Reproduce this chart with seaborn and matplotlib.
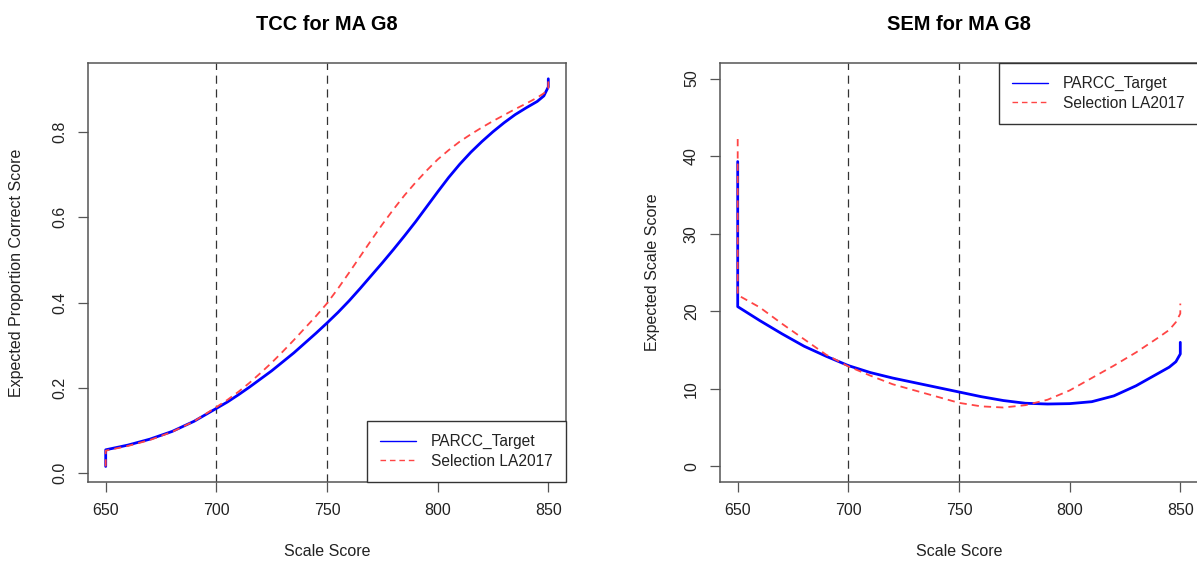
import matplotlib
matplotlib.use("Agg")
import matplotlib.pyplot as plt
from matplotlib.lines import Line2D
import pandas as pd
import seaborn as sns

# Scale-score grids (650 and 850 repeated for the jumps at the scale ends)
tcc_score = [650, 650, 660, 670, 680, 690, 700, 705, 710, 715, 720, 725, 730,
             735, 740, 745, 750, 755, 760, 765, 770, 775, 780, 785, 790, 795,
             800, 805, 810, 815, 820, 825, 830, 835, 840, 845, 848, 850, 850]
sem_score = [650, 650, 660, 670, 680, 690, 700, 710, 720, 730, 740, 750, 760,
             770, 780, 790, 800, 810, 820, 830, 840, 845, 848, 850, 850]

# Test characteristic curves (expected proportion correct)
tcc_parcc = [0.016, 0.055, 0.066, 0.080, 0.098, 0.122, 0.152, 0.167, 0.184,
             0.202, 0.221, 0.240, 0.261, 0.282, 0.305, 0.328, 0.352, 0.377,
             0.404, 0.433, 0.463, 0.493, 0.524, 0.556, 0.589, 0.624, 0.659,
             0.693, 0.724, 0.752, 0.777, 0.800, 0.821, 0.840, 0.856, 0.871,
             0.884, 0.905, 0.924]
tcc_la2017 = [0.016, 0.053, 0.064, 0.078, 0.097, 0.122, 0.155, 0.172, 0.191,
              0.212, 0.235, 0.259, 0.285, 0.312, 0.340, 0.368, 0.398, 0.433,
              0.470, 0.508, 0.546, 0.583, 0.618, 0.651, 0.681, 0.709, 0.735,
              0.757, 0.777, 0.794, 0.810, 0.825, 0.839, 0.853, 0.866, 0.880,
              0.890, 0.902, 0.920]

# Conditional standard errors of measurement
sem_parcc = [39.3, 20.6, 18.8, 17.1, 15.5, 14.2, 13.0, 12.1, 11.4, 10.8,
             10.2, 9.6, 9.0, 8.5, 8.15, 8.05, 8.1, 8.35, 9.1, 10.4, 12.0,
             12.8, 13.5, 14.5, 16.0]
sem_la2017 = [42.2, 22.1, 20.5, 18.4, 16.4, 14.4, 12.9, 11.7, 10.6, 9.8,
              9.0, 8.2, 7.75, 7.6, 7.9, 8.6, 9.8, 11.4, 13.0, 14.7, 16.6,
              17.6, 18.6, 19.7, 21.0]

series_names = ["PARCC_Target", "Selection LA2017"]
cut_scores = [700, 750]
titles = ["TCC for MA G8", "SEM for MA G8"]
y_labels = ["Expected Proportion Correct Score", "Expected Scale Score"]
x_label = "Scale Score"
x_ticks = [650, 700, 750, 800, 850]
tcc_ticks = [0.0, 0.2, 0.4, 0.6, 0.8]
sem_ticks = [0, 10, 20, 30, 40, 50]

sns.set_style("white")
plt.rcParams["font.family"] = ["Liberation Sans", "DejaVu Sans"]

BLUE = "#0000FF"
RED = "#FF4545"
INK = "#222222"
FRAME = "#555555"
palette = {series_names[0]: BLUE, series_names[1]: RED}
dashes = {series_names[0]: "", series_names[1]: (4, 2.8)}
sizes = {series_names[0]: 2.0, series_names[1]: 1.3}

fig = plt.figure(figsize=(11.97, 5.63), dpi=100)
ax_tcc = fig.add_axes([88 / 1197, 1 - 482 / 563, 478 / 1197, 419 / 563])
ax_sem = fig.add_axes([720 / 1197, 1 - 482 / 563, 478 / 1197, 419 / 563])


def long_frame(x, a, b):
    return pd.DataFrame({
        "score": x + x,
        "value": a + b,
        "series": [series_names[0]] * len(x) + [series_names[1]] * len(x),
    })


panels = [
    (ax_tcc, long_frame(tcc_score, tcc_parcc, tcc_la2017), (-0.0204, 0.961),
     tcc_ticks, ["%.1f" % t for t in tcc_ticks], "lower right"),
    (ax_sem, long_frame(sem_score, sem_parcc, sem_la2017), (-2.0, 52.0),
     sem_ticks, [str(t) for t in sem_ticks], "upper right"),
]

for i, (ax, df, ylim, yticks, ylabels, loc) in enumerate(panels):
    for c in cut_scores:
        ax.axvline(c, color="#333333", lw=0.9, dashes=(6.5, 4.5), zorder=1)
    sns.lineplot(data=df, x="score", y="value", hue="series", style="series",
                 size="series", palette=palette, dashes=dashes, sizes=sizes,
                 estimator=None, sort=False, legend=False, ax=ax, zorder=3)
    ax.set_xlim(642, 858)
    ax.set_ylim(*ylim)
    ax.set_xticks(x_ticks)
    ax.set_xticklabels([str(t) for t in x_ticks])
    ax.set_yticks(yticks)
    ax.set_yticklabels(ylabels, rotation=90, va="center")
    ax.tick_params(axis="both", direction="out", length=7.2, width=0.9,
                   color=FRAME, labelsize=11.5, labelcolor=INK, pad=8,
                   bottom=True, left=True)
    for sp in ax.spines.values():
        sp.set_color(FRAME)
        sp.set_linewidth(1.1)
    ax.set_xlabel(x_label, fontsize=11.5, color=INK)
    ax.set_ylabel(y_labels[i], fontsize=11.5, color=INK)
    ax.xaxis.set_label_coords(0.5, -(551 - 482) / 419)
    ax.xaxis.label.set_va("center")
    ax.set_title(titles[i], fontsize=14.4, fontweight="bold", color="black",
                 pad=23.5)
    handles = [Line2D([], [], color=BLUE, lw=1.0),
               Line2D([], [], color=RED, lw=1.0, dashes=(4, 2.8))]
    leg = ax.legend(handles, series_names, loc=loc, fontsize=11.2,
                    frameon=True, fancybox=False, borderaxespad=0,
                    borderpad=0.85, labelspacing=0.28, handlelength=2.3,
                    handletextpad=1.0)
    leg.get_frame().set_edgecolor("#333333")
    leg.get_frame().set_linewidth(1.0)
    leg.get_frame().set_alpha(1)
    for t in leg.get_texts():
        t.set_color(INK)

ax_tcc.yaxis.set_label_coords((17 - 88) / 478, 0.5)
ax_sem.yaxis.set_label_coords((653 - 720) / 478, 0.5)
for ax in (ax_tcc, ax_sem):
    ax.yaxis.label.set_va("center")

fig.savefig("out.png", dpi=100)
